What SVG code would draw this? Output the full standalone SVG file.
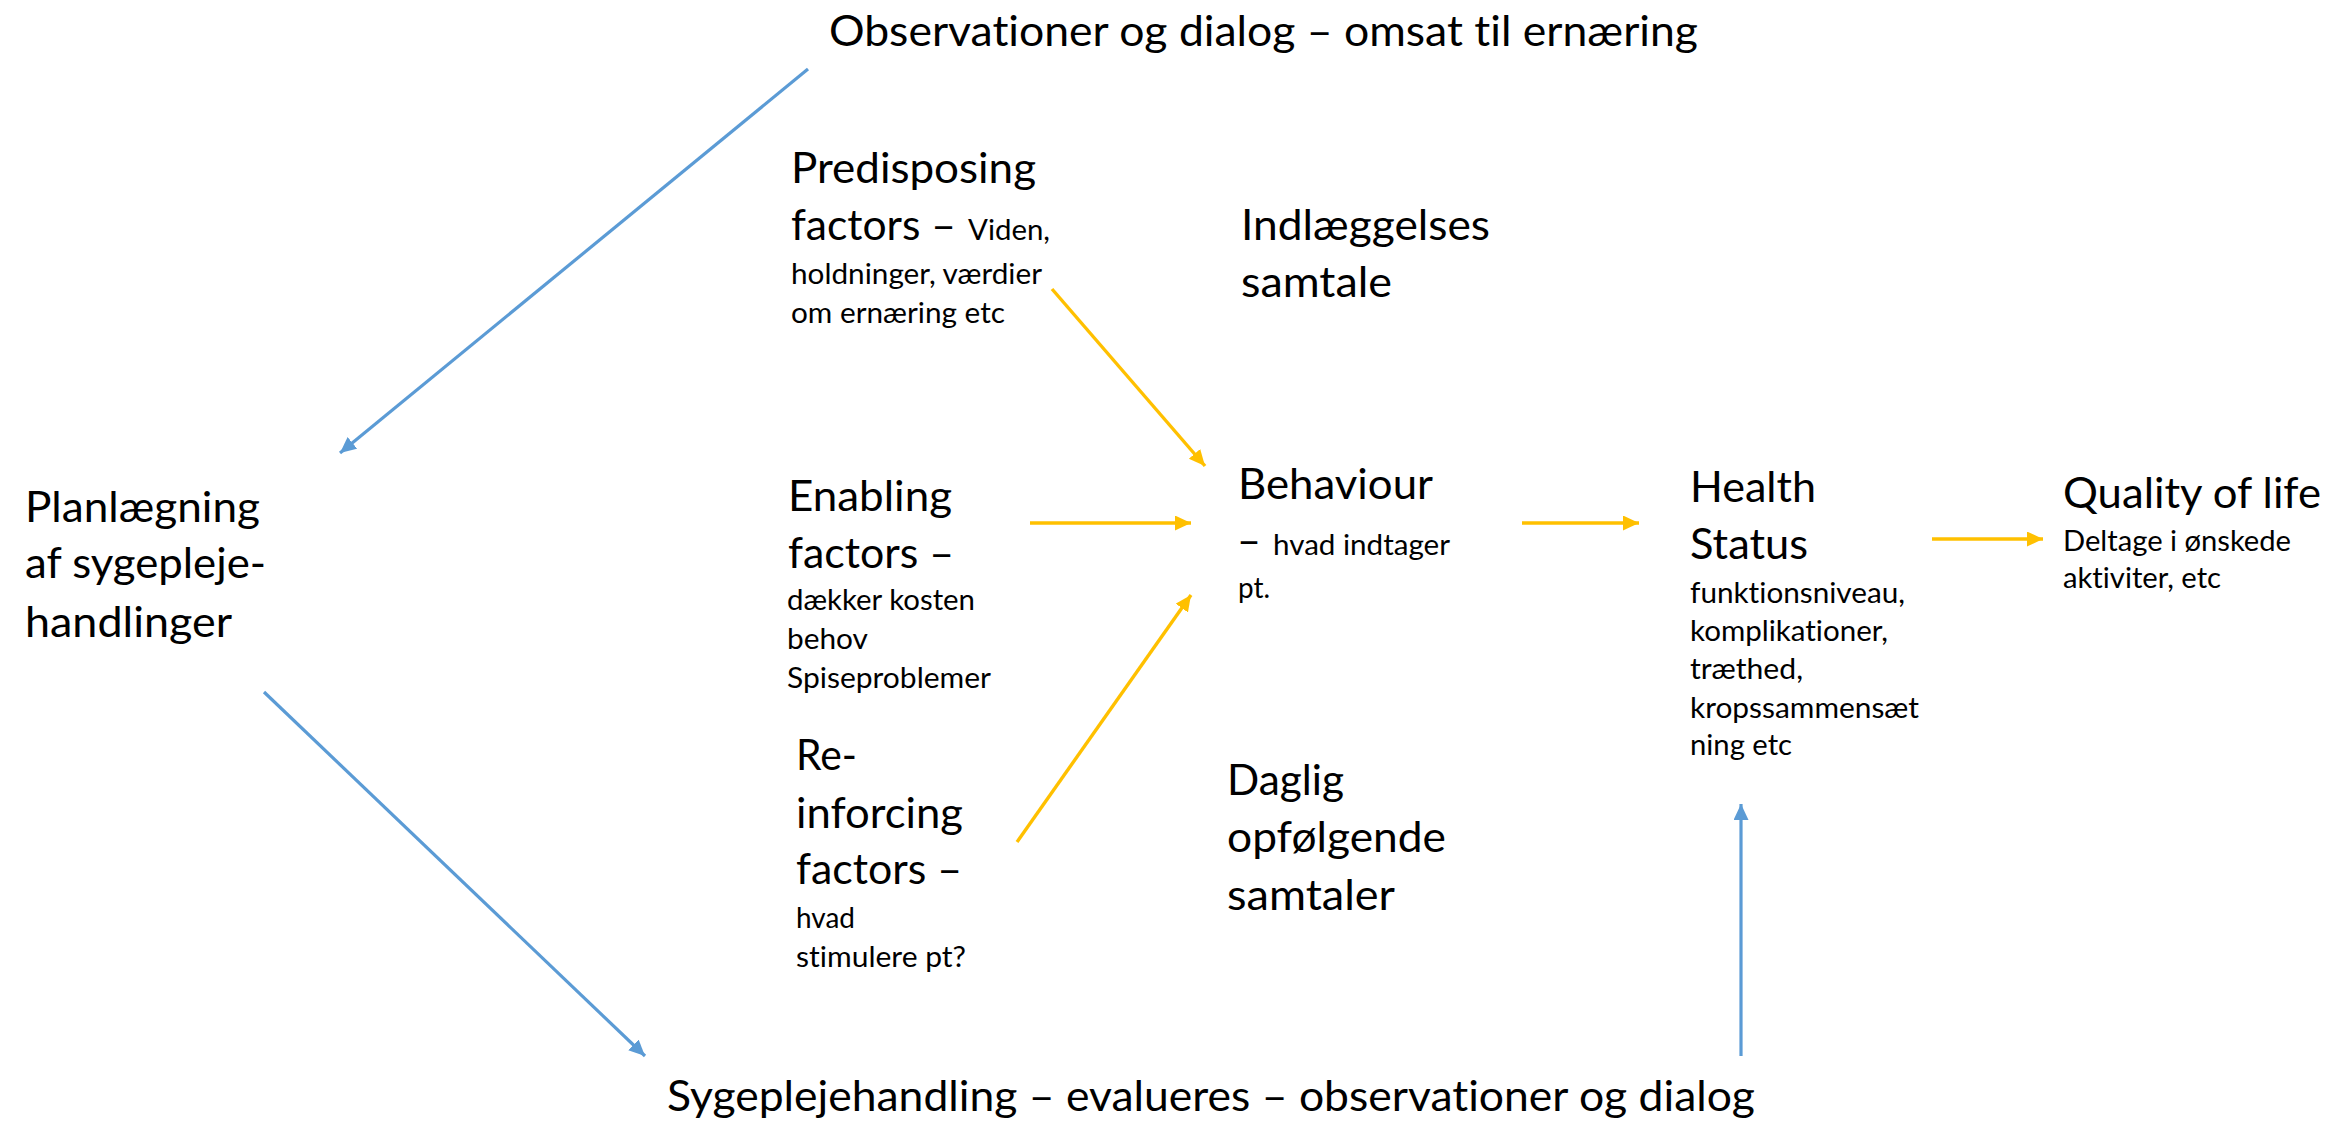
<svg xmlns="http://www.w3.org/2000/svg" width="2330" height="1122" viewBox="0 0 2330 1122">
<style>
text{font-family:"Lato","Liberation Sans",sans-serif;fill:#000;font-variant-ligatures:none;font-feature-settings:"liga" 0,"clig" 0,"dlig" 0}
.b{font-size:43px}
.s{font-size:29px}
.blue{stroke:#5B9BD5;stroke-width:3.2;fill:none}
.yel{stroke:#FFC000;stroke-width:3.4;fill:none}
</style>
<defs>
<marker id="ab" markerUnits="userSpaceOnUse" markerWidth="18" markerHeight="16" refX="16" refY="7.5" orient="auto">
<path d="M0,0 L16,7.5 L0,15 z" fill="#5B9BD5"/>
</marker>
<marker id="ay" markerUnits="userSpaceOnUse" markerWidth="18" markerHeight="16" refX="16" refY="7.5" orient="auto">
<path d="M0,0 L16,7.5 L0,15 z" fill="#FFC000"/>
</marker>
</defs>
<rect width="2330" height="1122" fill="#fff"/>
<g id="connectors">
<line class="blue" x1="808" y1="69" x2="340" y2="453" marker-end="url(#ab)"/>
<line class="blue" x1="264" y1="692" x2="645" y2="1056" marker-end="url(#ab)"/>
<line class="blue" x1="1741" y1="1056" x2="1741" y2="804" marker-end="url(#ab)"/>
<line class="yel" x1="1052" y1="289" x2="1205" y2="466" marker-end="url(#ay)"/>
<line class="yel" x1="1030" y1="523" x2="1191" y2="523" marker-end="url(#ay)"/>
<line class="yel" x1="1017" y1="842" x2="1191" y2="595" marker-end="url(#ay)"/>
<line class="yel" x1="1522" y1="523" x2="1639" y2="523" marker-end="url(#ay)"/>
<line class="yel" x1="1932" y1="539" x2="2043" y2="539" marker-end="url(#ay)"/>
</g>
<g id="observationer">
<text class="b" x="829" y="46" textLength="869" lengthAdjust="spacingAndGlyphs">Observationer og dialog – omsat til ernæring</text>
</g>
<g id="planlaegning">
<text class="b" x="25" y="522" textLength="235" lengthAdjust="spacingAndGlyphs">Planlægning</text>
<text class="b" x="25" y="578" textLength="241" lengthAdjust="spacingAndGlyphs">af sygepleje-</text>
<text class="b" x="25" y="637" textLength="207" lengthAdjust="spacingAndGlyphs">handlinger</text>
</g>
<g id="predisposing">
<text class="b" x="791" y="183" textLength="245" lengthAdjust="spacingAndGlyphs">Predisposing</text>
<text class="b" x="791" y="240" textLength="165" lengthAdjust="spacingAndGlyphs">factors –</text>
<text class="s" x="968" y="240" textLength="82" lengthAdjust="spacingAndGlyphs">Viden,</text>
<text class="s" x="791" y="284" textLength="251" lengthAdjust="spacingAndGlyphs">holdninger, værdier</text>
<text class="s" x="791" y="323" textLength="214" lengthAdjust="spacingAndGlyphs">om ernæring etc</text>
</g>
<g id="indlaeggelses">
<text class="b" x="1241" y="240" textLength="249" lengthAdjust="spacingAndGlyphs">Indlæggelses</text>
<text class="b" x="1241" y="297" textLength="151" lengthAdjust="spacingAndGlyphs">samtale</text>
</g>
<g id="enabling">
<text class="b" x="788" y="511" textLength="164" lengthAdjust="spacingAndGlyphs">Enabling</text>
<text class="b" x="788" y="568" textLength="166" lengthAdjust="spacingAndGlyphs">factors –</text>
<text class="s" x="787" y="610" textLength="188" lengthAdjust="spacingAndGlyphs">dækker kosten</text>
<text class="s" x="787" y="649" textLength="81" lengthAdjust="spacingAndGlyphs">behov</text>
<text class="s" x="787" y="688" textLength="204" lengthAdjust="spacingAndGlyphs">Spiseproblemer</text>
</g>
<g id="reinforcing">
<text class="b" x="796" y="770" textLength="61" lengthAdjust="spacingAndGlyphs">Re-</text>
<text class="b" x="796" y="828" textLength="167" lengthAdjust="spacingAndGlyphs">inforcing</text>
<text class="b" x="796" y="884" textLength="166" lengthAdjust="spacingAndGlyphs">factors –</text>
<text class="s" x="796" y="928" textLength="59" lengthAdjust="spacingAndGlyphs">hvad</text>
<text class="s" x="796" y="967" textLength="170" lengthAdjust="spacingAndGlyphs">stimulere pt?</text>
</g>
<g id="behaviour">
<text class="b" x="1238" y="499" textLength="195" lengthAdjust="spacingAndGlyphs">Behaviour</text>
<text class="b" x="1237" y="555" textLength="24" lengthAdjust="spacingAndGlyphs">–</text>
<text class="s" x="1273" y="555" textLength="177" lengthAdjust="spacingAndGlyphs">hvad indtager</text>
<text class="s" x="1238" y="598" textLength="32" lengthAdjust="spacingAndGlyphs">pt.</text>
</g>
<g id="daglig">
<text class="b" x="1227" y="795" textLength="117" lengthAdjust="spacingAndGlyphs">Daglig</text>
<text class="b" x="1227" y="852" textLength="219" lengthAdjust="spacingAndGlyphs">opfølgende</text>
<text class="b" x="1227" y="910" textLength="168" lengthAdjust="spacingAndGlyphs">samtaler</text>
</g>
<g id="health">
<text class="b" x="1690" y="502" textLength="126" lengthAdjust="spacingAndGlyphs">Health</text>
<text class="b" x="1690" y="559" textLength="118" lengthAdjust="spacingAndGlyphs">Status</text>
<text class="s" x="1690" y="603" textLength="215" lengthAdjust="spacingAndGlyphs">funktionsniveau,</text>
<text class="s" x="1690" y="641" textLength="198" lengthAdjust="spacingAndGlyphs">komplikationer,</text>
<text class="s" x="1690" y="679" textLength="113" lengthAdjust="spacingAndGlyphs">træthed,</text>
<text class="s" x="1690" y="718" textLength="229" lengthAdjust="spacingAndGlyphs">kropssammensæt</text>
<text class="s" x="1690" y="755" textLength="102" lengthAdjust="spacingAndGlyphs">ning etc</text>
</g>
<g id="quality">
<text class="b" x="2063" y="508" textLength="258" lengthAdjust="spacingAndGlyphs">Quality of life</text>
<text class="s" x="2063" y="551" textLength="228" lengthAdjust="spacingAndGlyphs">Deltage i ønskede</text>
<text class="s" x="2063" y="588" textLength="158" lengthAdjust="spacingAndGlyphs">aktiviter, etc</text>
</g>
<g id="sygeplejehandling">
<text class="b" x="667" y="1111" textLength="1088" lengthAdjust="spacingAndGlyphs">Sygeplejehandling – evalueres – observationer og dialog</text>
</g>
</svg>
